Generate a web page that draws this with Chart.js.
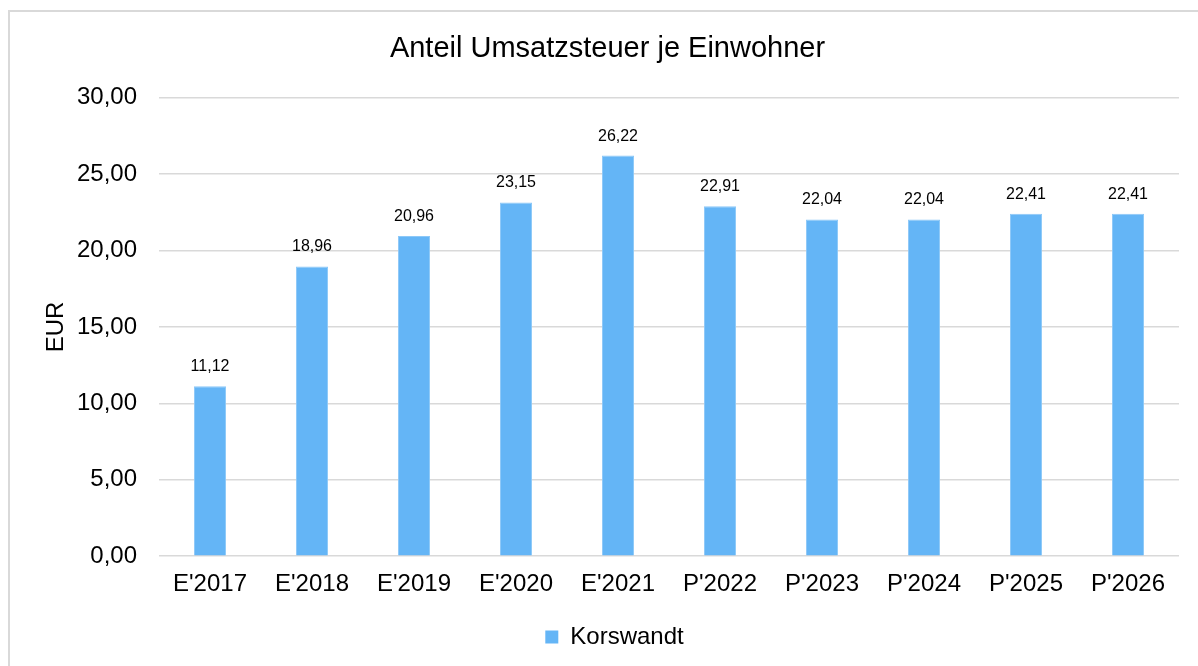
<!DOCTYPE html>
<html>
<head>
<meta charset="utf-8">
<script src="https://cdn.jsdelivr.net/npm/chart.js@4/dist/chart.umd.min.js"></script>
<style>
html,body{margin:0;padding:0;background:#fff;}
#wrap{position:absolute;left:0;top:0;width:1198px;height:666px;}
</style>
</head>
<body>
<div id="wrap"><canvas id="c" width="1198" height="666"></canvas></div>
<script>
const categories = ["E'2017","E'2018","E'2019","E'2020","E'2021","P'2022","P'2023","P'2024","P'2025","P'2026"];
const korswandt = [11.12, 18.96, 20.96, 23.15, 26.22, 22.91, 22.04, 22.04, 22.41, 22.41];
const chartTitle = "Anteil Umsatzsteuer je Einwohner";
const yTitle = "EUR";
const seriesName = "Korswandt";

const FONT = "'Liberation Sans', Arial, Helvetica, sans-serif";
const fmt = v => v.toFixed(2).replace('.', ',');

const borderPlugin = {
  id: 'frame',
  beforeDraw(chart) {
    const ctx = chart.ctx;
    ctx.save();
    ctx.fillStyle = '#fff';
    ctx.fillRect(0, 0, chart.width, chart.height);
    ctx.strokeStyle = '#d9d9d9';
    ctx.lineWidth = 2;
    ctx.strokeRect(9, 11, 1300, 800);
    ctx.restore();
  },
  afterLayout(chart) {
    if (chart.legend) {
      chart.legend.left += 20;
      chart.legend.right += 20;
    }
    if (chart.titleBlock) {
      chart.titleBlock.left += 13;
      chart.titleBlock.right += 13;
    }
  }
};

const labelPlugin = {
  id: 'valueLabels',
  afterDatasetsDraw(chart) {
    const ctx = chart.ctx;
    ctx.save();
    ctx.font = "16px " + FONT;
    ctx.fillStyle = '#000';
    ctx.textAlign = 'center';
    ctx.textBaseline = 'alphabetic';
    chart.data.datasets.forEach((ds, i) => {
      chart.getDatasetMeta(i).data.forEach((bar, j) => {
        ctx.fillText(fmt(ds.data[j]), bar.x, bar.y - 15);
      });
    });
    ctx.restore();
  }
};

new Chart(document.getElementById('c'), {
  type: 'bar',
  data: {
    labels: categories,
    datasets: [{
      label: seriesName,
      data: korswandt,
      backgroundColor: '#64b5f6',
      borderColor: '#8cc8f8',
      borderWidth: 1,
      barPercentage: 0.9,
      categoryPercentage: 0.35
    }]
  },
  options: {
    responsive: false,
    animation: false,
    devicePixelRatio: 1,
    layout: { padding: { left: 10, right: 19, top: 0, bottom: 7 } },
    plugins: {
      title: {
        display: true,
        text: chartTitle,
        color: '#000',
        font: { family: FONT, size: 29, weight: 'normal' },
        padding: { top: 32, bottom: 31 }
      },
      legend: {
        display: true,
        position: 'bottom',
        labels: {
          color: '#000',
          font: { family: FONT, size: 24 },
          boxWidth: 13,
          boxHeight: 13,
          padding: 12,
          generateLabels(chart) {
            return [{ text: seriesName, fillStyle: '#64b5f6', strokeStyle: '#64b5f6', lineWidth: 0, datasetIndex: 0 }];
          }
        }
      },
      tooltip: { enabled: false }
    },
    scales: {
      x: {
        grid: { display: false, drawTicks: false },
        border: { display: false },
        ticks: { color: '#000', font: { family: FONT, size: 24 }, padding: 14, maxRotation: 0 }
      },
      y: {
        min: 0, max: 30,
        afterFit(scale) { scale.width = 149; },
        grid: { color: '#d9d9d9', lineWidth: 1.5, drawTicks: false, tickLength: 0 },
        border: { display: false },
        ticks: { stepSize: 5, color: '#000', font: { family: FONT, size: 24 }, padding: 22, callback: v => fmt(v) },
        title: { display: true, text: yTitle, color: '#000', font: { family: FONT, size: 24 }, padding: { top: 32, bottom: 0 } }
      }
    }
  },
  plugins: [borderPlugin, labelPlugin]
});
</script>
</body>
</html>
